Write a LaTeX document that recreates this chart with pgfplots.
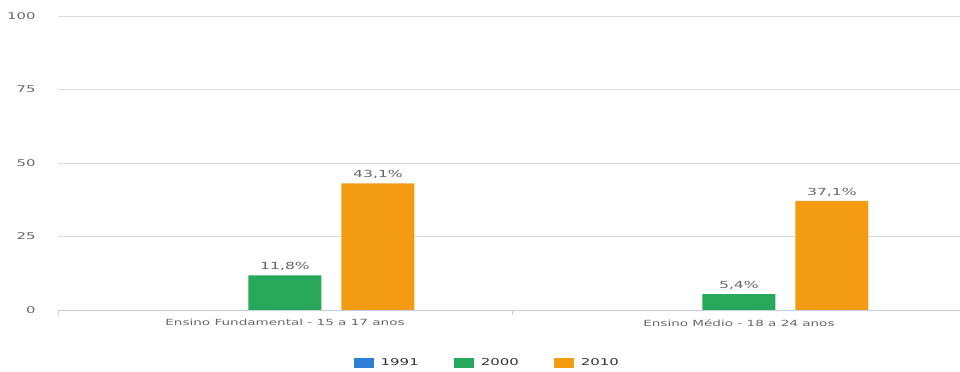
\documentclass[border=0pt]{standalone}
\usepackage{fontspec}
\setmainfont{DejaVu Sans}[FakeStretch=1.6]
\usepackage{pgfplots}
\pgfplotsset{compat=1.18}
\definecolor{cblue}{HTML}{2F7ED8}
\definecolor{cgreen}{HTML}{27A85A}
\definecolor{corange}{HTML}{F39C12}
\definecolor{cgrid}{HTML}{DCDCDC}
\definecolor{caxis}{HTML}{C0D0E0}
\definecolor{ctext}{HTML}{666666}
\definecolor{clegend}{HTML}{333333}
\begin{document}
\begin{tikzpicture}
\path[use as bounding box] (0,0) rectangle (960bp,372bp);
\begin{axis}[
  at={(58bp,62bp)}, anchor=south west,
  scale only axis, width=902bp, height=294bp,
  xmin=-0.5, xmax=1.487, ymin=0, ymax=100,
  ybar, bar width=73bp, ybar=20bp,
  ytick={0,25,50,75,100},
  ymajorgrids, grid style={cgrid, line width=0.8bp},
  xtick={-0.5,0.5,1.5}, xticklabels={},
  extra x ticks={0,1},
  extra x tick labels={Ensino Fundamental - 15 a 17 anos, Ensino Médio - 18 a 24 anos},
  extra x tick style={major tick length=0pt, grid=none},
  tick align=outside, major tick length=5bp,
  x tick style={caxis, line width=0.8bp},
  y tick style={draw=none},
  separate axis lines,
  axis x line*=bottom, axis y line*=left,
  x axis line style={caxis, line width=1bp, -},
  y axis line style={draw=none},
  /pgf/number format/assume math mode=true,
  tick label style={text=ctext},
  xticklabel style={font=\fontsize{8.5}{10}\selectfont, yshift=-6bp},
  yticklabel style={font=\fontsize{9.3}{10}\selectfont, anchor=east, xshift=-14bp},
  point meta=explicit symbolic,
  nodes near coords style={font=\fontsize{9.8}{11}\selectfont, text=ctext, yshift=1bp},
  legend style={at={(0.476,-0.18)}, anchor=center, draw=none, fill=none,
    legend columns=3, font=\fontsize{9.4}{10}\selectfont, text=clegend,
    /tikz/every odd column/.append style={column sep=5bp},
    /tikz/every even column/.append style={column sep=33bp}},
  legend image code/.code={\fill[#1] (0bp,-5bp) rectangle (20bp,5bp);},
]
\addplot[fill=cblue, draw=none] coordinates {(0,0) [] (1,0) []};
\addplot[fill=cgreen, draw=none, nodes near coords] coordinates {(0,11.8) [11,8\%] (1,5.4) [5,4\%]};
\addplot[fill=corange, draw=none, nodes near coords] coordinates {(0,43.1) [43,1\%] (1,37.1) [37,1\%]};
\legend{1991,2000,2010}
\end{axis}
\end{tikzpicture}
\end{document}
